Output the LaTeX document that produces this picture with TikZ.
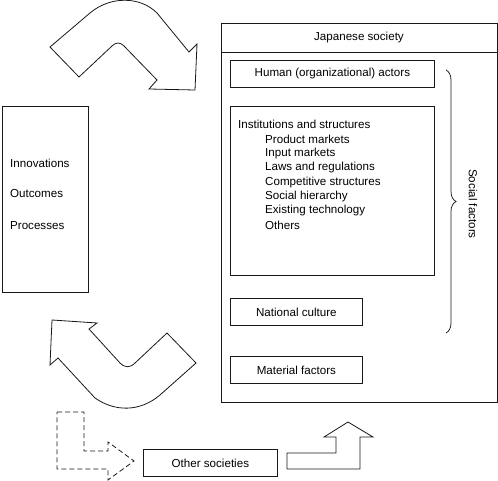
\documentclass[tikz,border=0pt]{standalone}
\usepackage{fontspec}
\setmainfont{Liberation Sans}
\usetikzlibrary{decorations.pathreplacing}
\begin{document}
\begin{tikzpicture}[x=1pt,y=-1pt,
  ln/.style={draw=black!90,line width=0.8pt},
  boxnode/.style={ln,rectangle,inner sep=0pt,anchor=north west},
  txt/.style={inner sep=0pt,font=\fontsize{11.6}{14}\selectfont},
  arrowshape/.style={ln,line join=miter}]
\useasboundingbox (0,0) rectangle (498,481);
% Japanese society frame
\node[boxnode,minimum width=276pt,minimum height=379pt] (jap) at (221,23) {};
\coordinate (sepL) at (221,52);
\coordinate (sepR) at (497,52);
\draw[ln] (sepL) -- (sepR);
\node[txt] (japt) at (359,38) {Japanese society};
% inner boxes
\node[boxnode,minimum width=204pt,minimum height=27pt] (human) at (230,60) {};
\node[txt] at (human.center) {Human (organizational) actors};
\node[boxnode,minimum width=204pt,minimum height=169pt] (inst) at (230,106) {};
\node[txt,anchor=west] (instt) at (238,124.5) {Institutions and structures};
\foreach \t [count=\i] in {Product markets,Input markets,Laws and regulations,Competitive structures,Social hierarchy,Existing technology,Others}
  \node[txt,anchor=west] (inst\i) at (265,124.5+14.4*\i) {\t};
\node[boxnode,minimum width=132pt,minimum height=27pt] (natc) at (230,298) {};
\node[txt] at (natc.center) {National culture};
\node[boxnode,minimum width=132pt,minimum height=27pt] (matf) at (230,356) {};
\node[txt] at (matf.center) {Material factors};
% brace
\coordinate (brT) at (446,70);
\coordinate (brB) at (446,333);
\draw[ln,line width=0.75pt,decorate,decoration={brace,amplitude=10pt}] (brT) -- (brB);
\node[txt,rotate=-90] (social) at (473,204) {Social factors};
% left box
\node[boxnode,minimum width=86pt,minimum height=186pt] (left) at (2,106) {};
\node[txt,anchor=west] (inno) at (10,163) {Innovations};
\node[txt,anchor=west] (outc) at (10,194) {Outcomes};
\node[txt,anchor=west] (proc) at (10,226) {Processes};
% other societies
\node[boxnode,minimum width=134pt,minimum height=27pt] (other) at (143,449) {};
\node[txt] at (other.center) {Other societies};
% top curved arrow
\draw[arrowshape] (50,47) -- (90,13) .. controls (110,-4) and (140,-4) .. (157,13)
  -- (189,52) -- (197,44) -- (195,90) -- (149,89) -- (157,80)
  -- (124,46) .. controls (120,42) and (116,42) .. (112,46) -- (79,77) -- cycle;
% bottom curved arrow
\draw[arrowshape] (52,320) -- (97,323) -- (89,329) -- (120,363)
  .. controls (125,368) and (130,368) .. (135,363) -- (167,333) -- (196,363)
  -- (160,395) .. controls (140,412) and (115,412) .. (95,398) -- (58,358)
  -- (50,365) -- cycle;
% dashed L arrow
\draw[arrowshape,dash pattern=on 5pt off 3pt] (57,412) -- (84,412) -- (84,451) -- (108,451) -- (108,442)
  -- (134,461) -- (108,480) -- (108,469) -- (57,469) -- cycle;
% solid up L arrow
\draw[arrowshape] (287,453) -- (336,453) -- (336,437) -- (324,437) -- (348,422)
  -- (373,437) -- (360,437) -- (360,469) -- (287,469) -- cycle;
\end{tikzpicture}
\end{document}
